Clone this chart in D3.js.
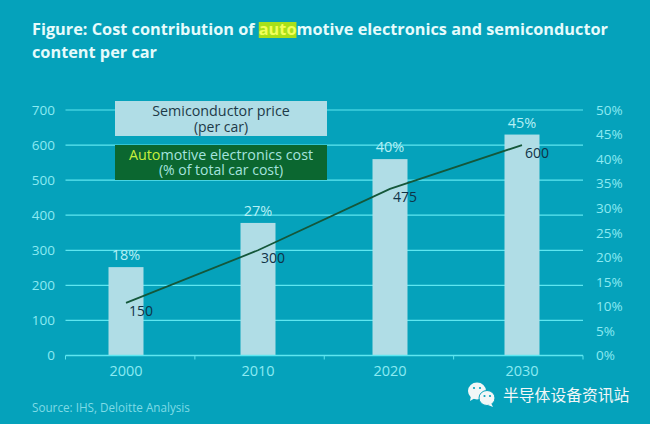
<!DOCTYPE html>
<html>
<head>
<meta charset="utf-8">
<script src="https://cdn.jsdelivr.net/npm/d3@7"></script>
<style>
  html, body { margin: 0; padding: 0; background: #05a2bb; }
  svg { display: block; }
  text { font-family: "Open Sans", sans-serif; }
</style>
</head>
<body>
<div id="chart"></div>
<script>
const years = ["2000", "2010", "2020", "2030"];
const costShare = [18, 27, 40, 45];
const semiPrice = [150, 300, 475, 600];
const priceTicks = [0, 100, 200, 300, 400, 500, 600, 700];
const shareTicks = [0, 5, 10, 15, 20, 25, 30, 35, 40, 45, 50];

const svg = d3.select("#chart")
  .append("svg")
  .attr("width", 650)
  .attr("height", 424);

svg.append("rect")
  .attr("width", 650)
  .attr("height", 424)
  .attr("fill", "#05a2bb");

const x = d3.scaleBand().domain(years).range([60, 588]);
const yPrice = d3.scaleLinear().domain([0, 700]).range([355.5, 110]);
const yShare = d3.scaleLinear().domain([0, 50]).range([355.5, 110]);
// the ticks on the baseline do not line up with the bars in the original
const xTicks = d3.scaleLinear().domain([0, 4]).range([65.5, 583]);

const axisColor = "#5fe6f0";
const labelColor = "#8ceaf2";

// gridlines
svg.append("g")
  .selectAll("line")
  .data(priceTicks.slice(1))
  .join("line")
  .attr("x1", xTicks(0))
  .attr("x2", xTicks(4))
  .attr("y1", d => yPrice(d))
  .attr("y2", d => yPrice(d))
  .attr("stroke", axisColor)
  .attr("stroke-width", 1.2);

// left axis
const leftAxis = svg.append("g")
  .attr("transform", "translate(60,0)")
  .call(d3.axisLeft(yPrice).tickValues(priceTicks).tickSize(0).tickPadding(5));
leftAxis.select(".domain").remove();
leftAxis.selectAll("text")
  .attr("fill", labelColor)
  .style("font-size", "13.5px")
  .style("font-family", "'Open Sans', sans-serif");

// right axis
const rightAxis = svg.append("g")
  .attr("transform", "translate(596,0)")
  .call(d3.axisRight(yShare).tickValues(shareTicks).tickSize(0).tickPadding(0).tickFormat(d => d + "%"));
rightAxis.select(".domain").remove();
rightAxis.selectAll("text")
  .attr("fill", labelColor)
  .style("font-size", "13.5px")
  .style("font-family", "'Open Sans', sans-serif");

// bars
const barWidth = 35;
svg.append("g")
  .selectAll("rect")
  .data(years)
  .join("rect")
  .attr("x", d => x(d) + x.bandwidth() / 2 - barWidth / 2)
  .attr("y", (d, i) => yShare(costShare[i]))
  .attr("width", barWidth)
  .attr("height", (d, i) => yShare(0) - yShare(costShare[i]))
  .attr("fill", "#b0dde6");

svg.append("g")
  .selectAll("text")
  .data(years)
  .join("text")
  .attr("x", d => x(d) + x.bandwidth() / 2)
  .attr("y", (d, i) => yShare(costShare[i]) - 7)
  .attr("text-anchor", "middle")
  .attr("font-size", 14.5)
  .attr("fill", "#b5f0f5")
  .text((d, i) => costShare[i] + "%");

// baseline and x axis
const bottomAxis = svg.append("g")
  .attr("transform", "translate(0,355.5)");
bottomAxis.append("line")
  .attr("x1", xTicks(0))
  .attr("x2", xTicks(4))
  .attr("stroke", axisColor)
  .attr("stroke-width", 1.5);
bottomAxis.selectAll(".tick-mark")
  .data(d3.range(5))
  .join("line")
  .attr("class", "tick-mark")
  .attr("x1", d => xTicks(d))
  .attr("x2", d => xTicks(d))
  .attr("y1", 0)
  .attr("y2", 4)
  .attr("stroke", axisColor);
bottomAxis.selectAll(".year")
  .data(years)
  .join("text")
  .attr("class", "year")
  .attr("x", d => x(d) + x.bandwidth() / 2)
  .attr("y", 20)
  .attr("text-anchor", "middle")
  .attr("font-size", 14.5)
  .attr("fill", labelColor)
  .text(d => d);

// price line
const line = d3.line()
  .x((d, i) => x(years[i]) + x.bandwidth() / 2)
  .y(d => yPrice(d));

svg.append("path")
  .datum(semiPrice)
  .attr("d", line)
  .attr("fill", "none")
  .attr("stroke", "#14573a")
  .attr("stroke-width", 1.8);

svg.append("g")
  .selectAll("text")
  .data(semiPrice)
  .join("text")
  .attr("x", (d, i) => x(years[i]) + x.bandwidth() / 2 + 3)
  .attr("y", d => yPrice(d) + 13)
  .attr("font-size", 14)
  .attr("fill", "#0f3347")
  .text(d => d);

// legend boxes
svg.append("rect")
  .attr("x", 115).attr("y", 101)
  .attr("width", 212).attr("height", 35)
  .attr("fill", "#b0dde6");
const legendPrice = svg.append("text")
  .attr("y", 116)
  .attr("text-anchor", "middle")
  .attr("font-size", 14.3)
  .attr("fill", "#1d3a48");
legendPrice.append("tspan").attr("x", 221).text("Semiconductor price");
legendPrice.append("tspan").attr("x", 221).attr("dy", 16).attr("font-size", 14).text("(per car)");

svg.append("rect")
  .attr("x", 115).attr("y", 145)
  .attr("width", 212).attr("height", 35)
  .attr("fill", "#0b6730");
const legendCost = svg.append("text")
  .attr("y", 160)
  .attr("text-anchor", "middle")
  .attr("font-size", 14.3)
  .attr("fill", "#a5e3df");
legendCost.append("tspan").attr("x", 221).attr("fill", "#c8f03c").text("Auto");
legendCost.append("tspan").text("motive electronics cost");
legendCost.append("tspan").attr("x", 221).attr("dy", 15).attr("font-size", 14).text("(% of total car cost)");

// title, with the highlight behind "auto"
const titleStyle = sel => sel
  .attr("x", 32)
  .attr("font-size", 16.3)
  .attr("font-weight", 700)
  .attr("fill", "#e6fbfb");

const highlight = svg.append("rect")
  .attr("fill", "#a8e01a");
const title1 = svg.append("text").attr("y", 35).call(titleStyle);
title1.append("tspan").text("Figure: Cost contribution of ");
title1.append("tspan").attr("fill", "#f2ff5a").text("auto");
title1.append("tspan").text("motive electronics and semiconductor");
svg.append("text").attr("y", 58).call(titleStyle).text("content per car");

const autoStart = title1.node().getSubStringLength(0, 29);
const autoLen = title1.node().getSubStringLength(29, 4);
highlight
  .attr("x", 32 + autoStart)
  .attr("y", 22)
  .attr("width", autoLen)
  .attr("height", 16);

// source and watermark
svg.append("text")
  .attr("x", 32).attr("y", 412)
  .attr("font-size", 11.7)
  .attr("fill", "#7fdbe6")
  .text("Source: IHS, Deloitte Analysis");

const bg = "#05a2bb";
const wechat = svg.append("g").attr("fill", "#f2f7f7");
wechat.append("ellipse").attr("cx", 477).attr("cy", 391).attr("rx", 9).attr("ry", 8.5);
wechat.append("path").attr("d", "M471 396l-1 5 5-3z");
wechat.append("ellipse").attr("cx", 487).attr("cy", 398).attr("rx", 8).attr("ry", 7.5)
  .attr("stroke", bg).attr("stroke-width", 1);
wechat.append("path").attr("d", "M491 403l2 4-5-2z");
[[474, 388], [480, 388], [484.5, 396], [490, 396]].forEach(p => {
  wechat.append("circle").attr("cx", p[0]).attr("cy", p[1]).attr("r", 1.1).attr("fill", bg);
});
wechat.append("text")
  .attr("x", 503).attr("y", 401)
  .attr("font-size", 15.8)
  .style("font-family", "'Noto Sans CJK SC', sans-serif")
  .text("半导体设备资讯站");
</script>
</body>
</html>
